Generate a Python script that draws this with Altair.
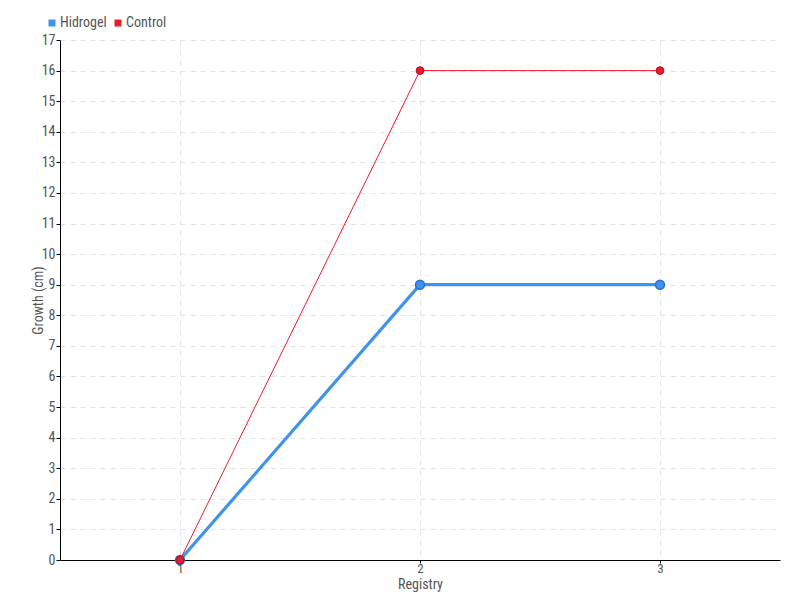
import altair as alt
import pandas as pd

registry = [1, 2, 3]
hidrogel = [0, 9, 9]
control = [0, 16, 16]
series_names = ["Hidrogel", "Control"]
colors = ["#3f93ee", "#ee1b2d"]
strokes = ["#2a6fcf", "#b0101c"]

rows = []
for name, vals in zip(series_names, [hidrogel, control]):
    for r, v in zip(registry, vals):
        rows.append({"Registry": r, "Growth": v, "Series": name})
df = pd.DataFrame(rows)

FONT = "Liberation Sans Narrow, Roboto Condensed, DejaVu Sans Condensed, sans-serif"

x = alt.X("Registry:Q", scale=alt.Scale(domain=[0.5, 3.5], nice=False, zero=False),
          axis=alt.Axis(values=registry, format="d", title="Registry", grid=True,
                        gridDash=[5, 5], gridColor="#e2e2e2", domainColor="#000",
                        tickColor="#000", tickSize=3, labelPadding=-1, titlePadding=2,
                        labelColor="#555", titleColor="#555", labelFontSize=13,
                        titleFontSize=14, titleFontWeight="normal", labelFont=FONT, titleFont=FONT))
y = alt.Y("Growth:Q", scale=alt.Scale(domain=[0, 17], nice=False),
          axis=alt.Axis(values=list(range(0, 18)), format="d", title="Growth (cm)", grid=True,
                        gridDash=[5, 5], gridColor="#e2e2e2", domainColor="#000",
                        tickColor="#000", tickSize=4, labelPadding=1, titlePadding=-4,
                        labelColor="#555", titleColor="#555", labelFontSize=14,
                        titleFontSize=14, titleFontWeight="normal", labelFont=FONT, titleFont=FONT))
color = alt.Color("Series:N", scale=alt.Scale(domain=series_names, range=colors),
                  legend=alt.Legend(orient="none", legendX=-15, legendY=-24, direction="horizontal",
                                    title=None, symbolType="square", symbolSize=30,
                                    labelFontSize=14, labelColor="#555", labelFont=FONT,
                                    columnPadding=4, symbolOffset=0, labelOffset=1))

base = alt.Chart(df)
blue_line = base.transform_filter(alt.datum.Series == "Hidrogel").mark_line(strokeWidth=3.2).encode(x=x, y=y, color=color)
red_line = base.transform_filter(alt.datum.Series == "Control").mark_line(strokeWidth=1).encode(x=x, y=y, color=color)
blue_pts = base.transform_filter(alt.datum.Series == "Hidrogel").mark_point(
    filled=True, size=80, stroke=strokes[0], strokeWidth=1.5, opacity=1).encode(x=x, y=y, color=color)
red_pts = base.transform_filter(alt.datum.Series == "Control").mark_point(
    filled=True, size=60, stroke=strokes[1], strokeWidth=1, opacity=1).encode(x=x, y=y, color=color)

chart = alt.layer(blue_line, red_line, blue_pts, red_pts).properties(
    width=720, height=520,
    autosize=alt.AutoSizeParams(type="none"),
    padding={"left": 52, "top": 32, "right": 12, "bottom": 36},
).configure_view(stroke=None)

chart.save("out.html", embed_options={"renderer": "svg", "actions": False})
